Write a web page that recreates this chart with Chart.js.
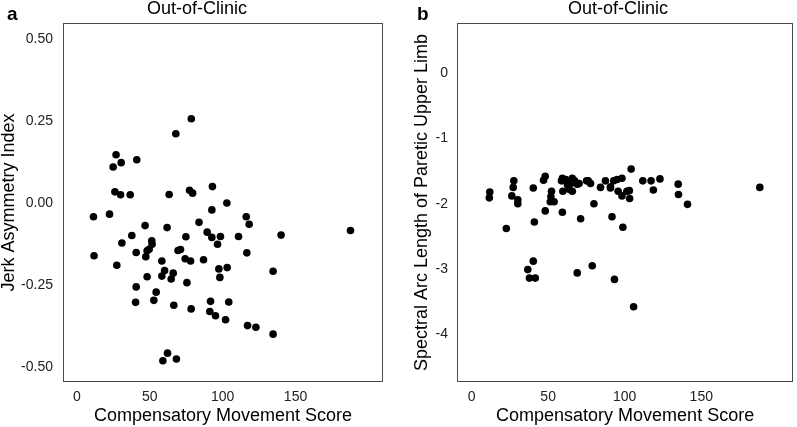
<!DOCTYPE html>
<html>
<head>
<meta charset="utf-8">
<script src="https://cdn.jsdelivr.net/npm/chart.js@4"></script>
<style>
  body { margin: 0; background: #fff; }
  #wrap { position: relative; width: 797px; height: 427px; overflow: hidden; }
  canvas { position: absolute; top: 0; }
</style>
</head>
<body>
<div id="wrap">
  <canvas id="chartA" width="400" height="427" style="left:0"></canvas>
  <canvas id="chartB" width="397" height="427" style="left:400px"></canvas>
</div>
<script>
// panel a: compensatory movement score vs jerk asymmetry index
var cmsA = [78.5, 67.9, 26.9, 30.4, 24.9, 41.1, 26.1, 30.0, 36.6, 63.3, 77.3, 79.4, 93.0, 102.9, 92.6,
    11.4, 22.4, 116.2, 46.8, 61.9, 83.8, 118.2, 187.7, 37.7, 30.9, 51.4, 51.6, 49.6, 48.2, 47.3,
    40.7, 11.8, 27.4, 74.8, 69.4, 71.1, 74.3, 78.0, 58.3, 86.9, 89.4, 92.6, 98.5, 96.5, 110.9,
    140.1, 116.6, 97.4, 103.1, 98.1, 60.2, 58.3, 66.1, 64.7, 48.2, 75.5, 134.6, 40.7, 54.4, 40.3,
    52.8, 66.5, 78.4, 91.7, 104.2, 91.2, 95.1, 102.0, 117.1, 122.8, 134.6, 62.2, 59.0, 68.3];
var jerk = [0.257, 0.211, 0.147, 0.123, 0.110, 0.132, 0.034, 0.025, 0.025, 0.026, 0.039, 0.030, 0.050, 0.000, -0.021,
    -0.042, -0.034, -0.042, -0.069, -0.075, -0.059, -0.065, -0.084, -0.099, -0.122, -0.115, -0.126, -0.141, -0.146, -0.164,
    -0.151, -0.161, -0.190, -0.103, -0.145, -0.142, -0.170, -0.177, -0.177, -0.173, -0.089, -0.105, -0.102, -0.126, -0.102,
    -0.098, -0.152, -0.201, -0.197, -0.227, -0.206, -0.223, -0.214, -0.232, -0.225, -0.243, -0.208, -0.256, -0.272, -0.303,
    -0.297, -0.312, -0.323, -0.300, -0.302, -0.331, -0.344, -0.356, -0.374, -0.379, -0.400, -0.458, -0.481, -0.476];

// panel b: compensatory movement score vs spectral arc length
var cmsB = [11.9, 11.6, 27.6, 27.2, 26.3, 30.2, 30.2, 40.3, 48.1, 47.0, 52.2, 51.8, 51.4, 53.9, 58.7,
    59.6, 61.5, 64.8, 63.7, 67.3, 69.0, 75.1, 77.7, 84.2, 87.4, 90.7, 92.8, 95.0, 98.2, 95.7,
    98.2, 103.0, 103.2, 104.2, 111.8, 117.2, 123.0, 118.7, 134.9, 135.1, 141.0, 188.2, 79.9, 48.1, 59.3,
    71.2, 91.7, 41.0, 22.7, 98.8, 40.3, 36.7, 37.8, 41.6, 69.0, 78.8, 93.3, 105.8,
    59.3, 65.8, 62.6, 65.8, 70.2, 76.2, 101.4, 90.7];
var sparc = [-1.82, -1.91, -1.65, -1.75, -1.88, -1.94, -2.00, -1.76, -1.58, -1.64, -1.81, -1.89, -1.97, -1.97, -1.65,
    -1.81, -1.63, -1.69, -1.78, -1.65, -1.70, -1.65, -1.69, -1.75, -1.65, -1.74, -1.65, -1.63, -1.61, -1.81,
    -1.88, -1.80, -1.92, -1.47, -1.65, -1.65, -1.62, -1.79, -1.70, -1.86, -2.01, -1.75, -2.00, -2.11, -2.13,
    -2.23, -2.20, -2.28, -2.38, -2.36, -2.88, -3.01, -3.14, -3.14, -3.06, -2.95, -3.16, -3.58,
    -1.61, -1.61, -1.71, -1.81, -1.69, -1.65, -1.81, -1.76];

var xTicks = [0, 50, 100, 150];
var yTicksA = [0.50, 0.25, 0.00, -0.25, -0.50];
var yTicksB = [0, -1, -2, -3, -4];

var FONT = '"Liberation Sans", Arial, sans-serif';

var points = function (xs, ys) {
    var data = [];
    for (var i = 0; i < xs.length; ++i) {
        data.push({x: xs[i], y: ys[i]});
    }
    return data;
};

// frame, panel letter and title
var panelDecor = {
    id: 'panelDecor',
    afterDraw: function (chart, args, opts) {
        var ctx = chart.ctx;
        var a = chart.chartArea;
        ctx.save();
        ctx.strokeStyle = '#4a4a4a';
        ctx.lineWidth = 1;
        ctx.strokeRect(Math.round(a.left) + 0.5, Math.round(a.top) + 0.5,
            Math.round(a.right - a.left) - 1, Math.round(a.bottom - a.top) - 1);
        ctx.fillStyle = '#000';
        ctx.textBaseline = 'alphabetic';
        ctx.font = 'bold 19px ' + FONT;
        ctx.textAlign = 'left';
        ctx.fillText(opts.letter, opts.letterX, 20);
        ctx.font = '18px ' + FONT;
        ctx.textAlign = 'center';
        ctx.fillText(opts.title, opts.titleX, 14);
        ctx.restore();
    }
};

var makeChart = function (id, xs, ys, cfg) {
    return new Chart(document.getElementById(id).getContext('2d'), {
        type: 'scatter',
        data: {
            datasets: [{
                data: points(xs, ys),
                backgroundColor: '#000',
                borderWidth: 0,
                pointRadius: 3.8,
                pointHoverRadius: 3.8
            }]
        },
        options: {
            responsive: false,
            animation: false,
            events: [],
            layout: {padding: {top: 23, right: cfg.padRight, bottom: 0, left: 0}},
            plugins: {
                legend: {display: false},
                tooltip: {enabled: false},
                panelDecor: {letter: cfg.letter, letterX: cfg.letterX, title: 'Out-of-Clinic', titleX: cfg.titleX}
            },
            scales: {
                x: {
                    type: 'linear',
                    min: -9.5,
                    max: 210,
                    grid: {display: false, drawTicks: false},
                    border: {display: false},
                    afterBuildTicks: function (s) { s.ticks = xTicks.map(function (v) { return {value: v}; }); },
                    afterFit: function (s) { s.height = 45; },
                    ticks: {color: '#222', padding: 7, font: {family: FONT, size: 14}},
                    title: {
                        display: true,
                        text: 'Compensatory Movement Score',
                        color: '#000',
                        font: {family: FONT, size: 18},
                        padding: {top: 0, bottom: 0}
                    }
                },
                y: {
                    type: 'linear',
                    min: cfg.yMin,
                    max: cfg.yMax,
                    grid: {display: false, drawTicks: false},
                    border: {display: false},
                    afterBuildTicks: function (s) { s.ticks = cfg.yTicks.map(function (v) { return {value: v}; }); },
                    afterFit: function (s) { s.width = cfg.yWidth; },
                    ticks: {
                        color: '#222',
                        padding: cfg.tickPad,
                        font: {family: FONT, size: 14},
                        callback: cfg.fmt
                    },
                    title: {
                        display: true,
                        text: cfg.yTitle,
                        color: '#000',
                        font: {family: FONT, size: 18},
                        padding: {top: cfg.yTitlePad, bottom: 0}
                    }
                }
            }
        },
        plugins: [panelDecor]
    });
};

makeChart('chartA', cmsA, jerk, {
    letter: 'a', letterX: 7, titleX: 197,
    padRight: 17, yWidth: 63, tickPad: 10, yTitlePad: -2,
    yMin: -0.546, yMax: 0.549, yTicks: yTicksA,
    yTitle: 'Jerk Asymmetry Index',
    fmt: function (v) { return v.toFixed(2); }
});

makeChart('chartB', cmsB, sparc, {
    letter: 'b', letterX: 17, titleX: 218,
    padRight: 1, yWidth: 57, tickPad: 9, yTitlePad: 11,
    yMin: -4.732, yMax: 0.769, yTicks: yTicksB,
    yTitle: 'Spectral Arc Length of Paretic Upper Limb',
    fmt: function (v) { return String(v); }
});
</script>
</body>
</html>
